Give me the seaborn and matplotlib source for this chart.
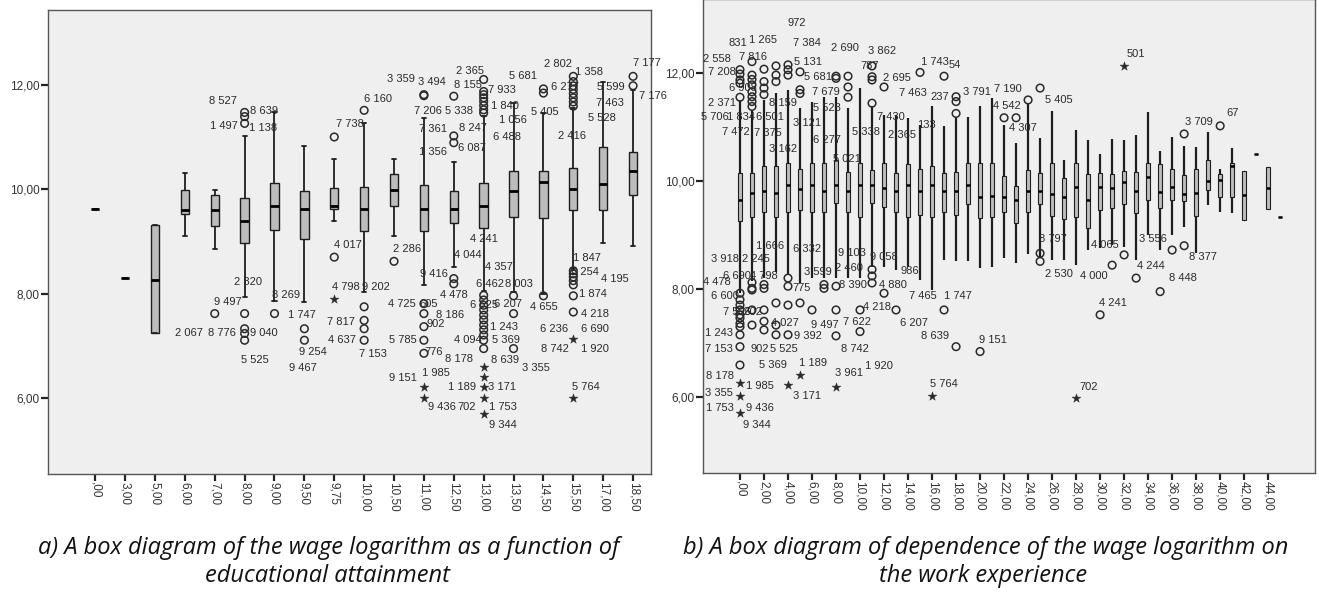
import numpy as np
import pandas as pd
import matplotlib
matplotlib.use("Agg")
import matplotlib.pyplot as plt
import seaborn as sns

# ---------------- Panel a: education ----------------
edu_cats = [",00", "3,00", "5,00", "6,00", "7,00", "8,00", "9,00", "9,50", "9,75", "10,00",
            "10,50", "11,00", "12,50", "13,00", "13,50", "14,50", "15,50", "17,00", "18,50"]
edu_wlo = [9.62, 8.30, 7.24, 9.11, 8.86, 7.94, 7.87, 7.85, 9.40, 8.03, 9.11, 8.16, 8.52, 8.05, 8.03, 8.00, 8.48, 8.98, 8.91]
edu_q1 = [9.62, 8.30, 7.24, 9.52, 9.29, 8.98, 9.22, 9.05, 9.62, 9.21, 9.67, 9.21, 9.35, 9.26, 9.47, 9.45, 9.61, 9.61, 9.89]
edu_med = [9.62, 8.30, 8.27, 9.61, 9.61, 9.40, 9.67, 9.62, 9.68, 9.62, 9.99, 9.62, 9.62, 9.68, 9.97, 10.13, 10.00, 10.10, 10.35]
edu_q3 = [9.62, 8.30, 9.31, 9.99, 9.89, 9.83, 10.11, 9.97, 10.03, 10.04, 10.30, 10.08, 9.96, 10.11, 10.34, 10.35, 10.40, 10.81, 10.71]
edu_whi = [9.62, 8.30, 9.31, 10.32, 9.99, 11.02, 11.47, 10.83, 10.58, 11.27, 10.58, 11.37, 10.52, 11.40, 11.65, 11.46, 11.56, 12.06, 11.90]

edu_out_cat = (["7,00"] + ["8,00"] * 7 + ["9,00"] + ["9,50"] * 2 + ["9,75"] * 3 + ["10,00"] * 5 + ["10,50"]
               + ["11,00"] * 9 + ["12,50"] * 5 + ["13,00"] * 24 + ["13,50"] * 3 + ["14,50"] * 3
               + ["15,50"] * 17 + ["18,50"] * 2)
edu_out_val = ([7.62]
               + [11.47, 11.39, 11.26, 7.62, 7.33, 7.24, 7.11]
               + [7.62]
               + [7.33, 7.11]
               + [11.00, 8.70, 7.90]
               + [11.51, 7.75, 7.49, 7.33, 7.11]
               + [8.62]
               + [11.81, 11.79, 7.81, 7.62, 7.37, 7.11, 6.86, 6.22, 6.00]
               + [11.78, 11.02, 10.89, 8.29, 8.19]
               + [12.10, 11.87, 11.81, 11.75, 11.68, 11.60, 11.52, 11.46,
                  7.97, 7.88, 7.78, 7.69, 7.59, 7.50, 7.40, 7.31, 7.21, 7.11, 6.95,
                  6.60, 6.41, 6.22, 6.00, 5.70]
               + [7.96, 7.62, 6.95]
               + [11.92, 11.84, 7.96]
               + [12.16, 12.06, 11.98, 11.91, 11.83, 11.75, 11.67, 11.59,
                  8.44, 8.38, 8.32, 8.25, 8.17, 7.96, 7.65, 7.14, 6.01]
               + [12.16, 11.98])
edu_out_kind = (["o"] + ["o"] * 7 + ["o"] + ["o"] * 2 + ["o", "o", "*"] + ["o"] * 5 + ["o"]
                + ["o"] * 7 + ["*"] * 2 + ["o"] * 5 + ["o"] * 19 + ["*"] * 5 + ["o"] * 3 + ["o"] * 3
                + ["o"] * 15 + ["*"] * 2 + ["o"] * 2)

edu_lab_text = ["8 527", "8 639", "1 497", "1 138", "2 820", "9 497", "8 269", "1 747", "2 067", "8 776",
                "9 040", "5 525", "9 254", "9 467", "7 738", "6 160", "3 359", "3 494", "2 365", "8 155",
                "7 933", "5 681", "2 802", "1 358", "7 177", "6 277", "5 599", "7 176", "7 206", "5 338",
                "1 840", "5 405", "7 463", "1 056", "5 528", "7 361", "8 247", "6 488", "2 416", "1 356",
                "6 087", "4 017", "2 286", "4 241", "4 044", "4 357", "1 847", "6 254", "4 195", "9 416",
                "4 798", "9 202", "6 462", "8 003", "1 874", "4 725", "605", "4 478", "6 625", "6 207",
                "4 655", "4 218", "7 817", "8 186", "1 243", "6 236", "6 690", "4 637", "902", "5 785",
                "4 094", "5 369", "8 742", "1 920", "7 153", "776", "8 178", "8 639", "3 355", "1 985",
                "9 151", "1 189", "3 171", "5 764", "9 436", "702", "1 753", "9 344"]
edu_lab_x = [4.29, 5.64, 4.29, 5.61, 5.11, 4.43, 6.40, 6.90, 3.15, 4.25,
             5.64, 5.34, 7.30, 6.95, 8.51, 9.45, 10.23, 11.26, 12.55, 12.49,
             13.61, 14.31, 15.48, 16.54, 18.47, 15.72, 17.24, 18.65, 11.15, 12.18,
             13.72, 15.04, 17.22, 13.98, 16.95, 11.29, 12.65, 13.78, 15.97, 11.32,
             12.61, 8.45, 10.44, 13.02, 12.46, 13.51, 16.44, 16.40, 17.38, 11.32,
             8.39, 9.39, 13.20, 14.17, 16.66, 10.27, 11.15, 11.99, 13.00, 13.82,
             15.01, 16.71, 8.24, 11.87, 13.67, 15.34, 16.71, 8.27, 11.38, 10.30,
             12.46, 13.75, 15.39, 16.71, 9.30, 11.32, 12.18, 13.70, 14.76, 11.40,
             10.30, 12.29, 13.63, 16.42, 11.59, 12.43, 13.63, 13.63]
edu_lab_y = [11.68, 11.49, 11.21, 11.17, 8.22, 7.85, 7.98, 7.60, 7.24, 7.24,
             7.24, 6.74, 6.89, 6.58, 11.24, 11.73, 12.10, 12.06, 12.27, 12.00,
             11.89, 12.17, 12.40, 12.25, 12.41, 11.96, 11.96, 11.78, 11.49, 11.49,
             11.59, 11.47, 11.65, 11.33, 11.37, 11.16, 11.17, 11.00, 11.02, 10.71,
             10.78, 8.93, 8.86, 9.05, 8.74, 8.51, 8.68, 8.41, 8.29, 8.38,
             8.13, 8.13, 8.19, 8.19, 8.00, 7.81, 7.81, 7.97, 7.78, 7.81,
             7.75, 7.62, 7.46, 7.59, 7.37, 7.33, 7.33, 7.11, 7.43, 7.11,
             7.11, 7.11, 6.95, 6.95, 6.84, 6.89, 6.76, 6.73, 6.57, 6.48,
             6.38, 6.22, 6.22, 6.22, 5.84, 5.84, 5.84, 5.49]

# ---------------- Panel b: experience ----------------
exp_cats = list(range(46))
exp_ticklabels = [",00", "2,00", "4,00", "6,00", "8,00", "10,00", "12,00", "14,00", "16,00", "18,00",
                  "20,00", "22,00", "24,00", "26,00", "28,00", "30,00", "32,00", "34,00", "36,00",
                  "38,00", "40,00", "42,00", "44,00"]
exp_wlo = [7.93, 8.15, 8.20, 8.32, 8.25, 8.11, 8.20, 8.20, 8.20, 8.20, 8.20, 8.40, 8.41, 8.35, 8.41, 8.17,
           7.98, 8.54, 8.51, 8.51, 8.38, 8.41, 8.57, 8.48, 8.65, 8.60, 8.54, 8.54, 8.44, 8.72, 8.75, 8.81,
           8.78, 8.54, 9.00, 8.72, 9.00, 9.15, 8.66, 9.56, 9.43, 9.40, 9.27, 10.50, 9.48, 9.34]
exp_q1 = [9.25, 9.33, 9.42, 9.33, 9.42, 9.46, 9.42, 9.42, 9.59, 9.42, 9.34, 9.59, 9.51, 9.42, 9.33, 9.37,
          9.34, 9.42, 9.37, 9.57, 9.31, 9.33, 9.42, 9.22, 9.42, 9.57, 9.35, 9.30, 9.33, 9.12, 9.46, 9.49,
          9.57, 9.40, 9.65, 9.49, 9.64, 9.62, 9.35, 9.83, 9.71, 9.71, 9.27, 10.50, 9.48, 9.34]
exp_med = [9.64, 9.77, 9.82, 9.78, 9.93, 9.85, 9.93, 9.82, 9.93, 9.82, 9.93, 9.93, 9.86, 9.82, 9.93, 9.82,
           9.93, 9.82, 9.82, 9.93, 9.70, 9.72, 9.71, 9.65, 9.82, 9.82, 9.75, 9.71, 9.88, 9.64, 9.88, 9.86,
           9.98, 9.82, 10.07, 9.79, 9.88, 9.75, 9.78, 9.99, 10.02, 10.27, 9.74, 10.50, 9.86, 9.34]
exp_q3 = [10.14, 10.15, 10.27, 10.27, 10.33, 10.22, 10.33, 10.33, 10.39, 10.17, 10.33, 10.20, 10.33, 10.15,
          10.31, 10.22, 10.27, 10.15, 10.17, 10.33, 10.33, 10.33, 10.10, 9.91, 10.20, 10.14, 10.33, 10.05,
          10.34, 10.13, 10.15, 10.13, 10.19, 10.17, 10.33, 10.31, 10.22, 10.11, 10.22, 10.39, 10.13, 10.33,
          10.19, 10.50, 10.25, 9.34]
exp_whi = [11.50, 11.30, 11.50, 11.62, 11.69, 11.35, 11.47, 11.56, 11.56, 11.35, 11.73, 11.38, 11.22, 11.22,
           11.16, 11.04, 11.38, 11.01, 11.19, 11.19, 11.38, 11.53, 11.04, 10.70, 11.45, 10.79, 11.30, 10.39,
           10.94, 10.75, 10.50, 10.77, 10.75, 10.85, 11.28, 10.56, 10.81, 10.64, 10.62, 10.90, 10.22, 10.61,
           10.19, 10.50, 10.25, 9.34]

exp_out_cat = ([0] * 19 + [1] * 13 + [2] * 9 + [3] * 6 + [4] * 8 + [5] * 5 + [6] + [7] * 2 + [8] * 6
               + [9] * 3 + [10] * 2 + [11] * 7 + [12] * 2 + [13] + [15] + [16] + [17] * 2 + [18] * 4
               + [20] + [22] + [23] + [24] + [25] * 3 + [28] + [30] + [31] + [32] * 2 + [33] + [35]
               + [36] + [37] * 2 + [40])
exp_out_val = ([12.06, 11.98, 11.87, 11.81, 11.55, 7.92, 7.80, 7.70, 7.61, 7.52, 7.46, 7.36, 7.30, 7.15,
                6.93, 6.59, 6.25, 6.01, 5.70]
               + [12.21, 11.96, 11.88, 11.78, 11.65, 11.56, 11.47, 11.38, 8.12, 8.01, 7.98, 7.61, 7.33]
               + [12.07, 11.84, 11.72, 11.60, 8.08, 8.01, 7.61, 7.40, 7.24]
               + [12.13, 11.96, 11.84, 7.74, 7.33, 7.15]
               + [12.15, 12.06, 11.96, 8.20, 8.05, 7.70, 7.15, 6.22]
               + [12.02, 11.69, 11.62, 7.74, 6.41]
               + [7.61]
               + [8.08, 8.01]
               + [11.94, 11.90, 8.05, 7.61, 7.13, 6.19]
               + [11.94, 11.74, 11.55]
               + [7.61, 7.21]
               + [12.13, 11.93, 11.87, 11.44, 8.36, 8.24, 8.11]
               + [11.74, 7.92]
               + [7.61]
               + [12.01]
               + [6.01]
               + [11.94, 7.61]
               + [11.56, 11.47, 11.25, 6.93]
               + [6.84]
               + [11.17]
               + [11.17]
               + [11.50]
               + [11.72, 8.66, 8.51]
               + [5.97]
               + [7.52]
               + [8.44]
               + [12.12, 8.63]
               + [8.20]
               + [7.95]
               + [8.72]
               + [10.87, 8.80]
               + [11.02])
exp_out_kind = (["o"] * 16 + ["*"] * 3 + ["o"] * 13 + ["o"] * 9 + ["o"] * 6 + ["o"] * 7 + ["*"]
                + ["o"] * 4 + ["*"] + ["o"] + ["o"] * 2 + ["o"] * 5 + ["*"] + ["o"] * 3 + ["o"] * 2
                + ["o"] * 7 + ["o"] * 2 + ["o"] + ["o"] + ["*"] + ["o"] * 2 + ["o"] * 4 + ["o"] + ["o"]
                + ["o"] + ["o"] + ["o"] * 3 + ["*"] + ["o"] + ["o"] + ["*", "o"] + ["o"] + ["o"] + ["o"]
                + ["o"] * 2 + ["o"])

exp_lab_text = ["972", "831", "1 265", "7 384", "2 558", "7 816", "7 208", "2 690", "3 862", "5 131",
                "787", "5 681", "2 695", "1 743", "54", "7 463", "237", "3 791", "2 371", "8 159",
                "7 679", "5 528", "5 706", "1 834", "6 501", "3 121", "7 430", "133", "7 472", "7 375",
                "6 277", "5 338", "2 365", "3 162", "5 021", "6 908",
                "1 666", "6 332", "3 918", "2 245", "9 103", "9 058", "2 460", "3 599", "986", "6 690",
                "4 798", "4 478", "775", "8 390", "4 880",
                "6 600", "7 596", "3 202", "4 027", "9 497", "7 622", "6 207", "4 218", "1 243", "9 392",
                "8 639", "7 153", "902", "5 525", "8 742", "5 369", "1 189", "1 920", "3 961", "8 178",
                "1 985", "3 171", "5 764", "3 355", "1 753", "9 436", "9 344", "7 465", "1 747",
                "7 190", "4 542", "4 307", "5 405", "501", "3 709", "67", "8 797", "2 530", "4 000",
                "4 065", "4 244", "3 556", "8 377", "8 448", "4 241", "9 151", "702"]
exp_lab_x = [4.72, -0.14, 1.89, 5.56, -1.89, 1.11, -1.53, 8.75, 11.81, 5.69,
             10.78, 6.53, 13.06, 16.25, 17.92, 14.44, 16.67, 19.72, -1.53, 3.56,
             7.14, 7.22, -2.08, 0.06, 2.50, 5.56, 12.56, 15.50, -0.33, 2.36,
             7.28, 10.50, 13.47, 3.56, 8.89, 0.28,
             2.50, 5.56, -1.25, 1.33, 9.31, 12.00, 9.11, 6.53, 14.17, -0.28,
             2.00, -1.89, 5.14, 9.44, 12.78,
             -1.25, -0.28, 0.69, 3.75, 7.08, 9.72, 14.50, 11.44, -1.72, 5.69,
             16.25, -1.72, 1.61, 3.67, 9.58, 2.72, 6.11, 11.61, 9.11, -1.67,
             1.67, 5.56, 17.00, -1.72, -1.67, 1.67, 1.39, 15.22, 18.11,
             22.28, 22.22, 23.60, 26.60, 33.00, 38.20, 41.06, 26.10, 26.60, 29.44,
             30.40, 34.20, 34.40, 38.60, 36.90, 31.06, 21.10, 29.03]
exp_lab_y = [12.92, 12.56, 12.61, 12.56, 12.25, 12.30, 12.01, 12.46, 12.41, 12.21,
             12.12, 11.92, 11.91, 12.21, 12.14, 11.62, 11.56, 11.64, 11.44, 11.44,
             11.65, 11.36, 11.19, 11.19, 11.19, 11.07, 11.19, 11.04, 10.91, 10.89,
             10.76, 10.91, 10.85, 10.59, 10.40, 11.73,
             8.80, 8.74, 8.55, 8.55, 8.66, 8.60, 8.38, 8.32, 8.34, 8.23,
             8.23, 8.12, 8.01, 8.07, 8.07,
             7.86, 7.58, 7.58, 7.36, 7.33, 7.38, 7.36, 7.67, 7.18, 7.13,
             7.12, 6.88, 6.88, 6.88, 6.88, 6.59, 6.62, 6.57, 6.44, 6.38,
             6.20, 6.02, 6.24, 6.07, 5.79, 5.79, 5.48, 7.87, 7.87,
             11.70, 11.38, 10.98, 11.50, 12.36, 11.10, 11.25, 8.92, 8.28, 8.24,
             8.81, 8.43, 8.92, 8.59, 8.21, 7.74, 7.06, 6.19]

# ---------------- drawing ----------------
sns.set_theme(style="white")
plt.rcParams["font.family"] = ["Liberation Sans", "DejaVu Sans"]

BG = "#efefef"
BOXFILL = "#bcbcbc"
INK = "#1e1e1e"

fig = plt.figure(figsize=(13.19, 5.94), dpi=100)
W, H = 1319, 594
axA = fig.add_axes([48 / W, (H - 474) / H, (651 - 48) / W, (474 - 10) / H])
axB = fig.add_axes([703 / W, (H - 473) / H, (1315 - 703) / W, (473 + 1) / H])


def long_frame(cats, lo, q1, med, q3, hi):
    rows = []
    for c, a, b, m, d, e in zip(cats, lo, q1, med, q3, hi):
        for v in (a, b, m, d, e):
            rows.append((str(c), v))
    return pd.DataFrame(rows, columns=["cat", "val"])


def draw_panel(ax, cats, lo, q1, med, q3, hi, width, lw, whisker_lw, cap_lw, median_lw):
    df = long_frame(cats, lo, q1, med, q3, hi)
    order = [str(c) for c in cats]
    sns.boxplot(data=df, x="cat", y="val", order=order, ax=ax, whis=(0, 100), showfliers=False,
                width=width, color=BOXFILL, saturation=1, linecolor=INK, linewidth=lw,
                medianprops=dict(color="black", linewidth=median_lw),
                whiskerprops=dict(color=INK, linewidth=whisker_lw),
                capprops=dict(color=INK, linewidth=cap_lw))
    ax.set_facecolor(BG)
    for s in ax.spines.values():
        s.set_color("#555555")
        s.set_linewidth(1.0)
    ax.set_xlabel("")
    ax.set_ylabel("")
    ax.set_yticks([6, 8, 10, 12])
    ax.set_yticklabels(["6,00", "8,00", "10,00", "12,00"])
    ax.tick_params(axis="both", which="major", direction="out", length=5, width=1.6, color="#222222",
                   labelsize=8.5, labelcolor="#333333", pad=1, left=True, bottom=True)


def draw_outliers(ax, xs, ys, kinds):
    xs = np.asarray(xs, dtype=float)
    ys = np.asarray(ys, dtype=float)
    kinds = np.asarray(kinds)
    m = kinds == "o"
    sns.scatterplot(x=xs[m], y=ys[m], ax=ax, marker="o", s=30, facecolor="none",
                    edgecolor="#2a2a2a", linewidth=1.1, zorder=5, legend=False)
    m = kinds == "*"
    sns.scatterplot(x=xs[m], y=ys[m], ax=ax, marker="*", s=45, color="#2a2a2a",
                    edgecolor="#2a2a2a", linewidth=0.3, zorder=5, legend=False)


def draw_labels(ax, texts, xs, ys):
    for t, x, y in zip(texts, xs, ys):
        ax.text(x, y, t, ha="center", va="center", fontsize=8, color="#2a2a2a", zorder=6)


# panel a
draw_panel(axA, edu_cats, edu_wlo, edu_q1, edu_med, edu_q3, edu_whi, width=0.28, lw=1.0,
           whisker_lw=1.3, cap_lw=1.3, median_lw=2.0)
edu_out_x = [edu_cats.index(c) for c in edu_out_cat]
draw_outliers(axA, edu_out_x, edu_out_val, edu_out_kind)
draw_labels(axA, edu_lab_text, edu_lab_x, edu_lab_y)
axA.set_xlim(-1.58, 18.6)
axA.set_ylim(4.55, 13.43)
axA.set_xticks(range(len(edu_cats)))
axA.set_xticklabels(edu_cats, rotation=270, va="top", ha="center")

# panel b
draw_panel(axB, exp_cats, exp_wlo, exp_q1, exp_med, exp_q3, exp_whi, width=0.33, lw=0.8,
           whisker_lw=1.6, cap_lw=0, median_lw=1.8)
draw_outliers(axB, exp_out_cat, exp_out_val, exp_out_kind)
draw_labels(axB, exp_lab_text, exp_lab_x, exp_lab_y)
axB.set_xlim(-3.08, 47.9)
axB.set_ylim(4.59, 13.37)
axB.set_xticks(range(0, 45, 2))
axB.set_xticklabels(exp_ticklabels, rotation=270, va="top", ha="center")

# captions
cap_font = dict(family=["Open Sans", "DejaVu Sans"], style="italic", fontsize=17, color="#111111",
                ha="center", va="center")
fig.text(329 / W, 1 - 548 / H, "a) A box diagram of the wage logarithm as a function of", **cap_font)
fig.text(327 / W, 1 - 576 / H, "educational attainment", **cap_font)
fig.text(986 / W, 1 - 548 / H, "b) A box diagram of dependence of the wage logarithm on", **cap_font)
fig.text(983 / W, 1 - 576 / H, "the work experience", **cap_font)

fig.savefig("out.png", dpi=100, facecolor="white")
